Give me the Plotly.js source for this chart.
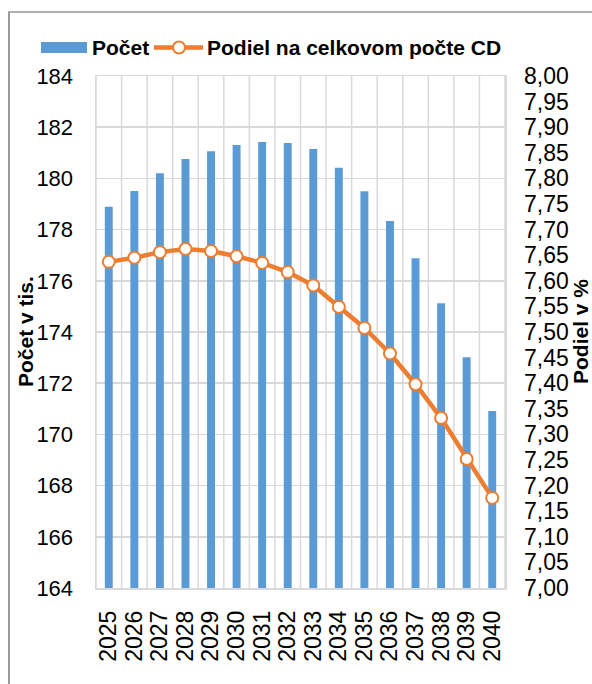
<!DOCTYPE html>
<html>
<head>
<meta charset="utf-8">
<script src="https://cdn.plot.ly/plotly-3.0.1.min.js"></script>
<style>
  html, body { margin: 0; padding: 0; background: #ffffff; }
  #wrap { position: relative; width: 592px; height: 684px; overflow: hidden; }
  #chart { width: 592px; height: 684px; }
  #frame { position: absolute; left: 8px; top: 11px; width: 700px; height: 800px;
           border-left: 2px solid #9a9a9a; border-top: 2px solid #b0b0b0; pointer-events: none; }
</style>
</head>
<body>
<div id="wrap">
  <div id="chart"></div>
  <div id="frame"></div>
</div>
<script>
// ---- data ----
const years = ['2025','2026','2027','2028','2029','2030','2031','2032',
               '2033','2034','2035','2036','2037','2038','2039','2040'];
const pocet = [178.89, 179.51, 180.20, 180.76, 181.06, 181.30, 181.42, 181.38,
               181.15, 180.42, 179.50, 178.34, 176.88, 175.12, 173.01, 170.91];
const podiel = [7.637, 7.645, 7.656, 7.662, 7.658, 7.648, 7.635, 7.617,
                7.591, 7.549, 7.508, 7.458, 7.398, 7.332, 7.252, 7.176];
const seriesNames = ['Počet', 'Podiel na celkovom počte CD'];
const yTitleLeft = 'Počet v tis.';
const yTitleRight = 'Podiel v %';

// ---- styles ----
const FONT = 'Liberation Sans, Arial, sans-serif';
const BLUE = '#5b9bd5';
const ORANGE = '#ed7d31';
const GRID = '#d9d9d9';

// plot-area geometry in pixels (used to place custom legend in paper units)
const W = 592, H = 684, L = 96, R = 87, T = 76, B = 96;
const PW = W - L - R, PH = H - T - B;
const px = x => (x - L) / PW;
const py = y => (H - B - y) / PH;

const traces = [
  {
    type: 'bar', x: years, y: pocet, name: seriesNames[0],
    marker: { color: BLUE }, yaxis: 'y', showlegend: false, hoverinfo: 'x+y'
  },
  {
    type: 'scatter', mode: 'lines+markers', x: years, y: podiel, name: seriesNames[1],
    yaxis: 'y2', showlegend: false,
    line: { color: ORANGE, width: 4.5 },
    marker: { size: 12, color: '#ffffff', line: { color: ORANGE, width: 2 } }
  }
];

// vertical gridlines at category boundaries
const vgrid = [];
for (let k = 0; k <= years.length; k++) {
  vgrid.push({ type: 'line', xref: 'x', yref: 'paper', x0: k - 0.5, x1: k - 0.5, y0: 0, y1: 1,
               layer: 'below', line: { color: GRID, width: 1.5 } });
}

const legY = 47.5;
const layout = {
  width: W, height: H,
  margin: { l: L, r: R, t: T, b: B, pad: 0 },
  paper_bgcolor: '#ffffff', plot_bgcolor: '#ffffff',
  separators: ', ',
  font: { family: FONT, size: 23, color: '#000000' },
  bargap: 0.69,
  showlegend: false,
  xaxis: {
    type: 'category', tickangle: -90,
    tickmode: 'array', tickvals: years, ticktext: years,
    range: [-0.5, years.length - 0.5],
    showgrid: false,
    showline: true, linecolor: GRID, linewidth: 1.5, mirror: true,
    ticks: '', ticklabelstandoff: 12,
    tickfont: { family: FONT, size: 23, color: '#000' }
  },
  yaxis: {
    range: [164, 184], dtick: 2, tick0: 164,
    showgrid: true, gridcolor: GRID, gridwidth: 1.5,
    showline: true, linecolor: GRID, linewidth: 1.5, mirror: true,
    zeroline: false, ticks: '', ticklabelstandoff: 17,
    tickfont: { family: FONT, size: 22, color: '#000' }
  },
  yaxis2: {
    overlaying: 'y', side: 'right',
    range: [7.0, 8.0], dtick: 0.05, tick0: 7.0, tickformat: '.2f',
    showgrid: false, zeroline: false, showline: false,
    ticks: '', ticklabelstandoff: 18,
    tickfont: { family: FONT, size: 23, color: '#000' }
  },
  shapes: vgrid.concat([
    { type: 'rect', xref: 'paper', yref: 'paper',
      x0: px(41), x1: px(87), y0: py(53), y1: py(42),
      fillcolor: BLUE, line: { width: 0 } },
    { type: 'line', xref: 'paper', yref: 'paper',
      x0: px(154), x1: px(203), y0: py(legY), y1: py(legY),
      line: { color: ORANGE, width: 4.5 } },
    { type: 'circle', xref: 'paper', yref: 'paper',
      x0: px(179 - 6), x1: px(179 + 6), y0: py(legY + 6), y1: py(legY - 6),
      fillcolor: '#ffffff', line: { color: ORANGE, width: 2 } }
  ]),
  annotations: [
    { xref: 'paper', yref: 'paper', x: px(90), y: py(legY), xanchor: 'left', yanchor: 'middle',
      text: '<b>' + seriesNames[0] + '</b>', showarrow: false,
      font: { family: FONT, size: 21, color: '#000' } },
    { xref: 'paper', yref: 'paper', x: px(205), y: py(legY), xanchor: 'left', yanchor: 'middle',
      text: '<b>' + seriesNames[1] + '</b>', showarrow: false,
      font: { family: FONT, size: 21, color: '#000' } },
    { xref: 'paper', yref: 'paper', x: px(25), y: 0.5, xanchor: 'center', yanchor: 'middle',
      textangle: -90, text: '<b>' + yTitleLeft + '</b>', showarrow: false,
      font: { family: FONT, size: 21, color: '#000' } },
    { xref: 'paper', yref: 'paper', x: px(580), y: 0.5, xanchor: 'center', yanchor: 'middle',
      textangle: -90, text: '<b>' + yTitleRight + '</b>', showarrow: false,
      font: { family: FONT, size: 21, color: '#000' } }
  ]
};

Plotly.newPlot('chart', traces, layout, { displayModeBar: false, staticPlot: true });
</script>
</body>
</html>
